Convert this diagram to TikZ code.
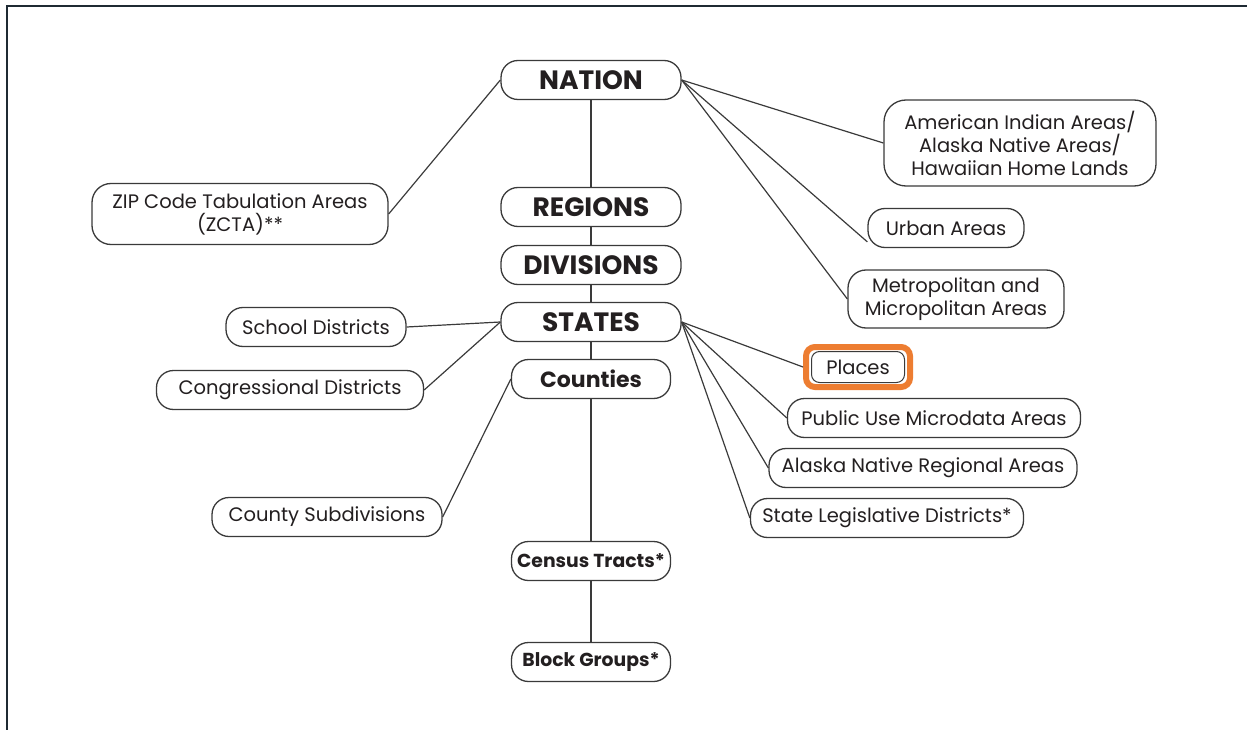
\documentclass[tikz,border=0pt]{standalone}
\usepackage{fontspec}
\setmainfont{Poppins}
\usetikzlibrary{calc}
\definecolor{ink}{HTML}{231F20}
\definecolor{wire}{HTML}{3A3A3A}
\definecolor{hilite}{HTML}{ED7D31}
\definecolor{frameblue}{HTML}{1F2A33}
\begin{document}
\begin{tikzpicture}[x=1pt,y=-1pt,
  box/.style={draw=wire, line width=1.3pt, fill=white, inner sep=0pt,
    rounded corners=17pt, minimum height=39pt, text=ink, align=center,
    font=\fontsize{19.5}{23}\selectfont},
  level/.style={box, font=\fontsize{26.5}{28}\selectfont\bfseries},
  sublevel/.style={box, font=\fontsize{22}{24}\selectfont\bfseries},
  small/.style={box, font=\fontsize{18.8}{21}\selectfont\bfseries},
  link/.style={draw=wire, line width=1.2pt}]
\useasboundingbox (0,0) rectangle (1247,730);
% page frame (top and left edges)
\draw[frameblue, line width=2pt] (1247,6) -- (7,6) -- (7,730);

% main hierarchy
\node[level, minimum width=180pt] (nation) at (591,80) {NATION};
\node[level, minimum width=180pt] (regions) at (591,207) {REGIONS};
\node[level, minimum width=180pt] (divisions) at (591,265) {DIVISIONS};
\node[level, minimum width=180pt] (states) at (591,322) {STATES};
\node[sublevel, minimum width=159pt] (counties) at (591,379) {Counties};
\node[small, minimum width=159pt] (tracts) at (591,561) {Census Tracts*};
\node[small, minimum width=159pt] (blocks) at (591,662) {Block Groups*};

% left branches
\node[box, minimum width=296pt, minimum height=61pt, rounded corners=19pt] (zcta) at (240,214) {ZIP Code Tabulation Areas\\(ZCTA)**};
\node[box, minimum width=180pt] (school) at (316,327) {School Districts};
\node[box, minimum width=267pt] (cong) at (290,390) {Congressional Districts};
\node[box, minimum width=230pt] (csub) at (327,517) {County Subdivisions};

% right branches from the nation
\node[box, minimum width=272pt, minimum height=86pt, rounded corners=22pt] (aian) at (1020,143) {American Indian Areas/\\Alaska Native Areas/\\Hawaiian Home Lands};
\node[box, minimum width=156pt] (urban) at (946,228) {Urban Areas};
\node[box, minimum width=216pt, minimum height=58pt, rounded corners=18pt] (metro) at (956,299) {Metropolitan and\\Micropolitan Areas};

% right branches from the states
\node[box, minimum width=93pt, minimum height=31pt, rounded corners=8pt, line width=1pt] (places) at (858,367) {Places};
\draw[hilite, line width=6pt, rounded corners=9pt]
  ([shift={(-5pt,-4pt)}]places.south west) rectangle ([shift={(5pt,4pt)}]places.north east);
\node[box, minimum width=293pt] (puma) at (934,418) {Public Use Microdata Areas};
\node[box, minimum width=308pt] (anra) at (923,468) {Alaska Native Regional Areas};
\node[box, minimum width=273pt] (sld) at (887,518) {State Legislative Districts*};

% vertical spine
\draw[link] (nation.south) -- (regions.north);
\draw[link] (regions.south) -- (divisions.north);
\draw[link] (divisions.south) -- (states.north);
\draw[link] (states.south) -- (counties.north);
\draw[link] (counties.south) -- (tracts.north);
\draw[link] (tracts.south) -- (blocks.north);

% connectors
\draw[link] (nation.west) -- (zcta.east);
\draw[link] (nation.east) -- (aian.west);
\draw[link] (nation.east) -- (urban.190);
\draw[link] (nation.east) -- (metro.west);
\draw[link] (states.west) -- (school.east);
\draw[link] (states.west) -- (cong.east);
\draw[link] (counties.west) -- (csub.east);
\draw[link] (states.east) -- ([xshift=-8pt]places.west);
\draw[link] (states.east) -- (puma.west);
\draw[link] (states.east) -- (anra.west);
\draw[link] (states.east) -- (sld.west);
\end{tikzpicture}
\end{document}
